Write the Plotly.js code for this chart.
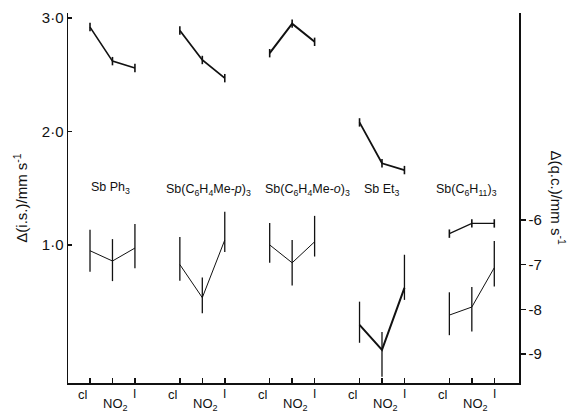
<!DOCTYPE html>
<html><head><meta charset="utf-8">
<script src="https://cdn.plot.ly/plotly-3.0.1.min.js"></script>
<style>body{margin:0;background:#fff}#c{width:576px;height:413px}</style>
</head><body><div id="c"></div>
<script>
// compounds and substituents
const compounds = ["Sb Ph<sub>3</sub>", "Sb(C<sub>6</sub>H<sub>4</sub>Me-<i>p</i>)<sub>3</sub>", "Sb(C<sub>6</sub>H<sub>4</sub>Me-<i>o</i>)<sub>3</sub>", "Sb Et<sub>3</sub>", "Sb(C<sub>6</sub>H<sub>11</sub>)<sub>3</sub>"];
const substituents = ["cl", "NO<sub>2</sub>", "I"];
const groupStep = 4;
// Δ(i.s.) / mm s-1 (left axis), per compound: cl, NO2, I
const isValues = [
  [2.92, 2.62, 2.56],
  [2.89, 2.63, 2.47],
  [2.69, 2.95, 2.79],
  [2.08, 1.72, 1.66],
  [1.10, 1.19, 1.19]
];
// Δ(q.c.) / mm s-1 (right axis), per compound: cl, NO2, I
const qcValues = [
  [-6.69, -6.92, -6.63],
  [-7.00, -7.74, -6.45],
  [-6.56, -6.96, -6.49],
  [-8.35, -8.91, -7.52],
  [-8.13, -7.95, -7.07]
];
const qcErrPlus = [
  [0.47, 0.49, 0.54],
  [0.62, 0.45, 0.63],
  [0.49, 0.51, 0.58],
  [0.52, 0.40, 0.74],
  [0.51, 0.45, 0.60]
];
const qcErrMinus = [
  [0.47, 0.45, 0.45],
  [0.36, 0.35, 0.27],
  [0.40, 0.51, 0.33],
  [0.40, 0.60, 0.27],
  [0.45, 0.55, 0.42]
];

const FONT = "Liberation Sans, Arial, sans-serif";
const traces = [];
const isWidths = [1.6, 1.8, 2, 1.8, 1.2];
const qcWidths = [1, 1, 1, 2, 1];
compounds.forEach((c, g) => {
  const xs = substituents.map((s, i) => g * groupStep + i);
  traces.push({
    x: xs, y: isValues[g], yaxis: "y", type: "scatter", mode: "lines+markers",
    line: {color: "#111", width: isWidths[g]},
    marker: {symbol: "line-ns-open", size: 6, color: "#111", line: {width: 1.6, color: "#111"}},
    hoverinfo: "skip", showlegend: false
  });
  traces.push({
    x: xs, y: qcValues[g], yaxis: "y2", type: "scatter", mode: "lines",
    line: {color: "#111", width: qcWidths[g]},
    error_y: {type: "data", symmetric: false, array: qcErrPlus[g], arrayminus: qcErrMinus[g], width: 0, thickness: 1.3, color: "#111"},
    hoverinfo: "skip", showlegend: false
  });
});

const annotations = [];
const labelY = [188, 190, 190, 190, 190];
const labelShift = [0.89, 1.29, 1.69, 0.98, 0.76];
compounds.forEach((c, g) => {
  annotations.push({x: g * groupStep + labelShift[g], xref: "x", y: (383 - labelY[g]) / 370, yref: "paper",
    text: c, showarrow: false, font: {size: 12.5, color: "#111", family: FONT}});
  annotations.push({x: g * groupStep - 0.3, xref: "x", y: -0.03, yref: "paper", yanchor: "middle",
    text: "cl", showarrow: false, font: {size: 13, color: "#111", family: FONT}});
  annotations.push({x: g * groupStep + 1.15, xref: "x", y: -0.058, yref: "paper", yanchor: "middle",
    text: substituents[1], showarrow: false, font: {size: 13, color: "#111", family: FONT}});
  annotations.push({x: g * groupStep + 2, xref: "x", y: -0.03, yref: "paper", yanchor: "middle",
    text: "I", showarrow: false, font: {size: 12, color: "#111", family: FONT}});
});
annotations.push({x: 1.0, xref: "paper", xanchor: "left", xshift: 28, y: 0.5, yref: "paper",
  text: "Δ(q.c.)/mm s<sup>-1</sup>", textangle: 90, showarrow: false,
  font: {size: 15, color: "#111", family: FONT}});

const layout = {
  width: 576, height: 413,
  margin: {l: 68, r: 57, t: 13, b: 30},
  paper_bgcolor: "#fff", plot_bgcolor: "#fff",
  showlegend: false,
  font: {family: FONT, color: "#111"},
  xaxis: {range: [-0.98, 19.1], showgrid: false, zeroline: false, showline: true, linecolor: "#111", linewidth: 1.5,
    tickmode: "array", tickvals: [0,1,2,4,5,6,8,9,10,12,13,14,16,17,18], ticktext: Array(15).fill(""),
    ticks: "inside", ticklen: 5, tickwidth: 1.5, tickcolor: "#111"},
  yaxis: {range: [-0.216, 3.044], showgrid: false, zeroline: false, showline: true, linecolor: "#111", linewidth: 1.5,
    tickmode: "array", tickvals: [1, 2, 3], ticktext: ["1·0", "2·0", "3·0"],
    ticks: "inside", ticklen: 4, tickwidth: 1.5, tickcolor: "#111", tickfont: {size: 15},
    title: {text: "Δ(i.s.)/mm s<sup>-1</sup>", font: {size: 15}, standoff: 10}},
  yaxis2: {overlaying: "y", side: "right", range: [-9.65, -1.37], showgrid: false, zeroline: false, showline: true,
    linecolor: "#111", linewidth: 1.5, tickmode: "array", tickvals: [-9, -8, -7, -6], ticktext: ["-9", "-8", "-7", "-6"],
    ticks: "outside", ticklen: 5, tickwidth: 1.5, tickcolor: "#111", tickfont: {size: 15}},
  annotations: annotations
};
Plotly.newPlot("c", traces, layout, {staticPlot: true, displayModeBar: false});
</script></body></html>
